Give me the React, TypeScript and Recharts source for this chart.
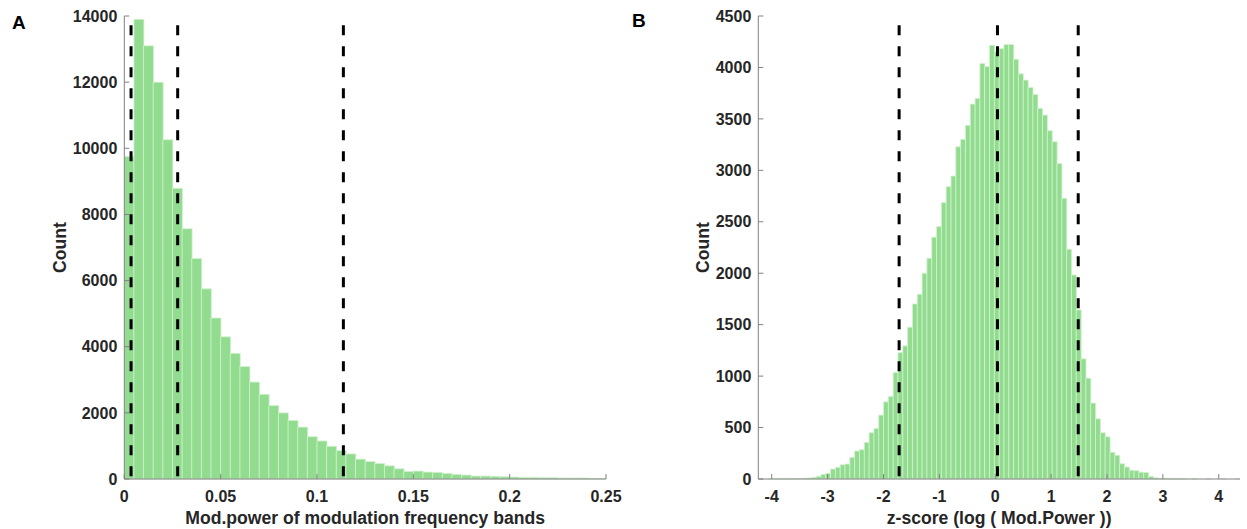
import React from 'react';
import { BarChart, Bar, XAxis, YAxis, ReferenceLine, Label } from 'recharts';

// ---------- Panel A data ----------
const leftBinStart = 0;
const leftBinWidth = 0.005;
const leftCounts = [
  9750, 13900, 13100, 12000, 10260, 8790, 7570, 6670, 5750, 4870,
  4300, 3800, 3400, 2930, 2560, 2220, 2000, 1770, 1570, 1280,
  1150, 990, 860, 760, 600, 530, 470, 400, 310, 230,
  240, 210, 200, 170, 140, 120, 90, 90, 80, 70,
  60, 50, 50, 40, 40, 30, 30, 30, 20, 20,
];
const leftXTicks = [0, 0.05, 0.1, 0.15, 0.2, 0.25];
const leftYTicks = [0, 2000, 4000, 6000, 8000, 10000, 12000, 14000];
const leftThresholds = [0.0035, 0.0277, 0.1137];
const leftXLabel = 'Mod.power of modulation frequency bands';

// ---------- Panel B data ----------
const rightBinStart = -4.24;
const rightBinWidth = 0.0862;
const rightCounts = [
  0, 0, 1, 1, 1, 2, 2, 3, 4, 6,
  10, 16, 26, 45, 55, 97, 113, 139, 146, 210,
  272, 285, 356, 450, 492, 621, 750, 802, 1035, 1229,
  1294, 1476, 1702, 1796, 2000, 2146, 2350, 2453, 2686, 2841,
  2945, 3229, 3301, 3437, 3644, 3699, 4039, 4010, 4215, 4151,
  4184, 4223, 4223, 4080, 3938, 3877, 3806, 3738, 3602, 3537,
  3385, 3278, 3066, 2728, 2233, 1983, 1644, 1168, 980, 738,
  585, 450, 410, 260, 231, 149, 117, 86, 81, 66,
  64, 25, 12, 5, 3, 2, 1, 1, 1, 0,
  1, 0, 0, 1, 0, 0, 1, 0, 0, 1,
];
const rightXTicks = [-4, -3, -2, -1, 0, 1, 2, 3, 4];
const rightYTicks = [0, 500, 1000, 1500, 2000, 2500, 3000, 3500, 4000, 4500];
const rightThresholds = [-1.72, 0.04, 1.485];
const rightXLabel = 'z-score (log ( Mod.Power ))';

const FONT = '"Liberation Sans", Arial, Helvetica, sans-serif';
const TEXT = '#262626';
const AXIS = '#808080';
const FILL = '#92dc8f';
const EDGE = '#d6f2d3';

type HistProps = {
  width: number;
  height: number;
  yAxisWidth: number;
  marginRight: number;
  binStart: number;
  binWidth: number;
  counts: number[];
  xDomain: [number, number];
  yMax: number;
  xTicks: number[];
  yTicks: number[];
  thresholds: number[];
  xLabel: string;
  yLabelOffset: number;
};

function Histogram(p: HistProps) {
  const data = p.counts.map((c, i) => ({
    x: p.binStart + p.binWidth * (i + 0.5),
    count: c,
  }));
  const lineTop = p.yMax * 0.98;
  const tickStyle = { fill: TEXT, fontSize: 16, fontWeight: 'bold', fontFamily: FONT };

  const yLabelContent = (props: any) => {
    const vb = props.viewBox;
    const x = vb.x + vb.width - p.yLabelOffset;
    const y = vb.y + vb.height / 2;
    return (
      <text
        x={x}
        y={y}
        transform={`rotate(-90, ${x}, ${y})`}
        textAnchor="middle"
        fill={TEXT}
        fontSize={17.6}
        fontWeight="bold"
        fontFamily={FONT}
      >
        Count
      </text>
    );
  };
  const xLabelContent = (props: any) => {
    const vb = props.viewBox;
    const x = vb.x + vb.width / 2;
    const y = vb.y + 45;
    return (
      <text x={x} y={y} textAnchor="middle" fill={TEXT} fontSize={17.6} fontWeight="bold" fontFamily={FONT}>
        {p.xLabel}
      </text>
    );
  };

  return (
    <BarChart
      width={p.width}
      height={p.height}
      data={data}
      margin={{ top: 16, right: p.marginRight, bottom: 0, left: 0 }}
      barCategoryGap={0}
      barGap={0}
    >
      <XAxis
        type="number"
        dataKey="x"
        domain={p.xDomain}
        ticks={p.xTicks}
        interval={0}
        allowDataOverflow
        height={50}
        tickSize={-5}
        tickMargin={17}
        tick={tickStyle}
        axisLine={{ stroke: AXIS, strokeWidth: 1 }}
        tickLine={{ stroke: AXIS, strokeWidth: 1 }}
      >
        <Label content={xLabelContent} />
      </XAxis>
      <YAxis
        type="number"
        domain={[0, p.yMax]}
        ticks={p.yTicks}
        interval={0}
        width={p.yAxisWidth}
        tickSize={-5}
        tickMargin={12}
        tick={tickStyle}
        axisLine={{ stroke: AXIS, strokeWidth: 1 }}
        tickLine={{ stroke: AXIS, strokeWidth: 1 }}
      >
        <Label content={yLabelContent} />
      </YAxis>
      <Bar
        dataKey="count"
        fill={FILL}
        stroke={EDGE}
        strokeWidth={0.8}
        isAnimationActive={false}
      />
      {p.thresholds.map((t, i) => (
        <ReferenceLine
          key={i}
          segment={[
            { x: t, y: lineTop },
            { x: t, y: 0 },
          ]}
          stroke="#000000"
          strokeWidth={3}
          strokeDasharray="10 11"
        />
      ))}
    </BarChart>
  );
}

export default function App() {
  return (
    <div style={{ position: 'absolute', left: 0, top: 0, width: 1247, height: 529, background: '#ffffff' }}>
      <div style={{ position: 'absolute', left: 0, top: 0 }}>
        <Histogram
          width={660}
          height={529}
          yAxisWidth={124.3}
          marginRight={54}
          binStart={leftBinStart}
          binWidth={leftBinWidth}
          counts={leftCounts}
          xDomain={[0, 0.25]}
          yMax={14000}
          xTicks={leftXTicks}
          yTicks={leftYTicks}
          thresholds={leftThresholds}
          xLabel={leftXLabel}
          yLabelOffset={58.8}
        />
      </div>
      <div style={{ position: 'absolute', left: 620, top: 0 }}>
        <Histogram
          width={627}
          height={529}
          yAxisWidth={138.3}
          marginRight={7}
          binStart={rightBinStart}
          binWidth={rightBinWidth}
          counts={rightCounts}
          xDomain={[-4.24, 4.38]}
          yMax={4500}
          xTicks={rightXTicks}
          yTicks={rightYTicks}
          thresholds={rightThresholds}
          xLabel={rightXLabel}
          yLabelOffset={49.8}
        />
      </div>
      <svg
        width={1247}
        height={529}
        style={{ position: 'absolute', left: 0, top: 0, pointerEvents: 'none' }}
      >
        <text x={12} y={29.3} fontSize={19} fontWeight="bold" fontFamily={FONT} fill="#000">A</text>
        <text x={632} y={26.7} fontSize={19} fontWeight="bold" fontFamily={FONT} fill="#000">B</text>
      </svg>
    </div>
  );
}
